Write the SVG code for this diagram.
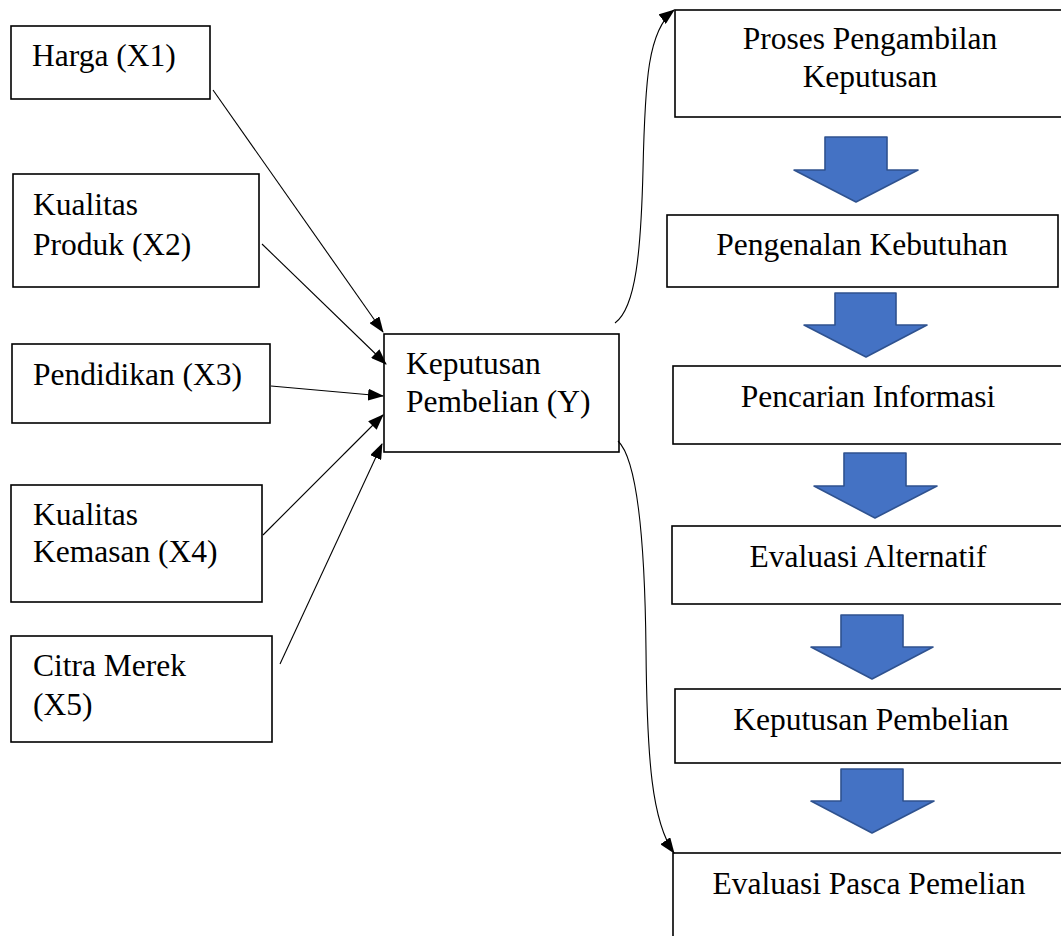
<svg xmlns="http://www.w3.org/2000/svg" width="1061" height="936" viewBox="0 0 1061 936">
<style>
.box{fill:#fff;stroke:#000;stroke-width:1.6}
.t{font-family:"Liberation Serif","Times New Roman",serif;font-size:31.5px;fill:#000}
.c{text-anchor:middle}
.con{fill:none;stroke:#000;stroke-width:1.1}
.blk{fill:#4472C4;stroke:#2F528F;stroke-width:1.6;stroke-linejoin:round}
</style>
<defs>
<marker id="ah" markerUnits="userSpaceOnUse" markerWidth="16" markerHeight="12" refX="15" refY="6" orient="auto">
<path d="M0,0 L16,6 L0,12 Z" fill="#000"/>
</marker>
</defs>
<rect width="1061" height="936" fill="#fff"/>
<g id="x1"><rect class="box" x="11" y="26" width="199" height="73"/><text class="t" x="32" y="66">Harga (X1)</text></g>
<g id="x2"><rect class="box" x="13" y="174" width="246" height="113"/><text class="t" x="33" y="215">Kualitas</text><text class="t" x="33" y="255">Produk (X2)</text></g>
<g id="x3"><rect class="box" x="12" y="344" width="258" height="79"/><text class="t" x="33" y="385">Pendidikan (X3)</text></g>
<g id="x4"><rect class="box" x="11" y="485" width="251" height="117"/><text class="t" x="33" y="525">Kualitas</text><text class="t" x="33" y="562">Kemasan (X4)</text></g>
<g id="x5"><rect class="box" x="11" y="636" width="261" height="106"/><text class="t" x="33" y="676">Citra Merek</text><text class="t" x="33" y="715">(X5)</text></g>
<g id="y"><rect class="box" x="384" y="334" width="235" height="118"/><text class="t" x="406" y="374">Keputusan</text><text class="t" x="406" y="412">Pembelian (Y)</text></g>
<g id="proses"><rect class="box" x="675" y="10" width="400" height="107"/><text class="t c" x="870" y="49">Proses Pengambilan</text><text class="t c" x="870" y="87">Keputusan</text></g>
<g id="a1"><path class="blk" d="M825,137 H887 V170 H918 L856,202 L794,170 H825 Z"/></g>
<g id="s1"><rect class="box" x="667" y="215" width="391" height="72"/><text class="t c" x="862" y="255">Pengenalan Kebutuhan</text></g>
<g id="a2"><path class="blk" d="M835,293 H896 V325 H927 L866,357 L804,325 H835 Z"/></g>
<g id="s2"><rect class="box" x="673" y="366" width="400" height="78"/><text class="t c" x="868" y="407">Pencarian Informasi</text></g>
<g id="a3"><path class="blk" d="M844,453 H906 V486 H937 L875,518 L814,486 H844 Z"/></g>
<g id="s3"><rect class="box" x="672" y="526" width="400" height="78"/><text class="t c" x="868" y="567">Evaluasi Alternatif</text></g>
<g id="a4"><path class="blk" d="M841,615 H903 V647 H933 L872,679 L811,647 H841 Z"/></g>
<g id="s4"><rect class="box" x="675" y="689" width="400" height="74"/><text class="t c" x="871" y="730">Keputusan Pembelian</text></g>
<g id="a5"><path class="blk" d="M841,769 H903 V801 H934 L872,833 L811,801 H841 Z"/></g>
<g id="s5"><rect class="box" x="673" y="853" width="400" height="100"/><text class="t c" x="869" y="894">Evaluasi Pasca Pemelian</text></g>
<g id="connectors">
<line class="con" x1="213" y1="90" x2="383" y2="332" marker-end="url(#ah)"/>
<line class="con" x1="262" y1="244" x2="386" y2="364" marker-end="url(#ah)"/>
<line class="con" x1="271" y1="386" x2="383" y2="396" marker-end="url(#ah)"/>
<line class="con" x1="263" y1="535" x2="383" y2="415" marker-end="url(#ah)"/>
<line class="con" x1="280" y1="664" x2="382" y2="444" marker-end="url(#ah)"/>
<path class="con" d="M615,323 C636,308 641,250 643,170 C645,80 648,30 674,10" marker-end="url(#ah)"/>
<path class="con" d="M618,441 C638,460 645,550 646,650 C647,760 652,822 674,853" marker-end="url(#ah)"/>
</g>
</svg>
